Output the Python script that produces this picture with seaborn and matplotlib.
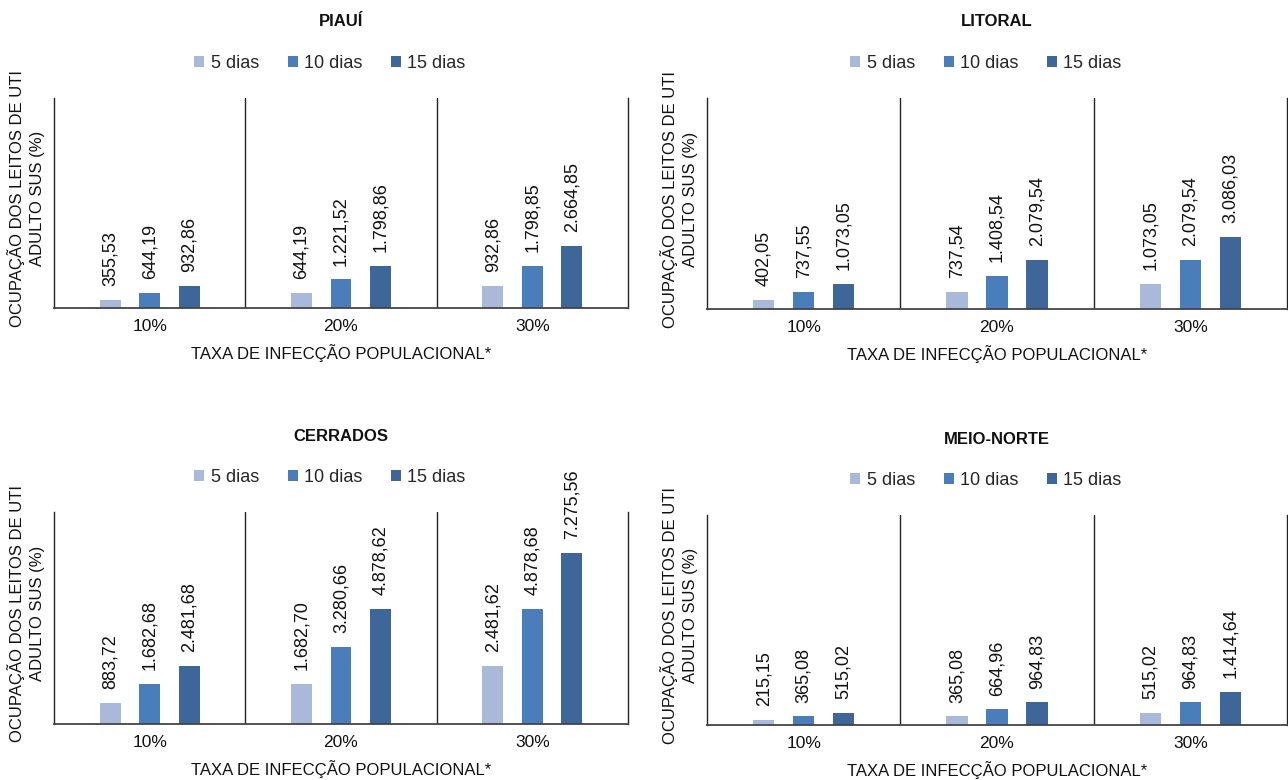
import matplotlib
matplotlib.use("Agg")
import matplotlib.pyplot as plt
import seaborn as sns
import pandas as pd

# Data -------------------------------------------------------------------
regions = ["PIAUÍ", "LITORAL", "CERRADOS", "MEIO-NORTE"]
taxas = ["10%", "20%", "30%"]
periodos = ["5 dias", "10 dias", "15 dias"]

piaui_5 = [355.53, 644.19, 932.86]
piaui_10 = [644.19, 1221.52, 1798.85]
piaui_15 = [932.86, 1798.86, 2664.85]

litoral_5 = [402.05, 737.54, 1073.05]
litoral_10 = [737.55, 1408.54, 2079.54]
litoral_15 = [1073.05, 2079.54, 3086.03]

cerrados_5 = [883.72, 1682.70, 2481.62]
cerrados_10 = [1682.68, 3280.66, 4878.68]
cerrados_15 = [2481.68, 4878.62, 7275.56]

meionorte_5 = [215.15, 365.08, 515.02]
meionorte_10 = [365.08, 664.96, 964.83]
meionorte_15 = [515.02, 964.83, 1414.64]

series = {
    "PIAUÍ": [piaui_5, piaui_10, piaui_15],
    "LITORAL": [litoral_5, litoral_10, litoral_15],
    "CERRADOS": [cerrados_5, cerrados_10, cerrados_15],
    "MEIO-NORTE": [meionorte_5, meionorte_10, meionorte_15],
}

ylabel = "OCUPAÇÃO DOS LEITOS DE UTI\nADULTO SUS (%)"
xlabel = "TAXA DE INFECÇÃO POPULACIONAL*"
palette = ["#A9B9D9", "#4A7EBB", "#3F6699"]

# Fonts --------------------------------------------------------------------
sns.set_style("white")
plt.rcParams["font.family"] = ["Liberation Sans", "DejaVu Sans"]


def fmt_br(v):
    s = f"{v:,.2f}"
    return s.replace(",", "X").replace(".", ",").replace("X", ".")


fig = plt.figure(figsize=(12.88, 7.8), dpi=100)

W, H = 1288, 780
# axes boxes in pixels: left, top, right, bottom
boxes = {
    "PIAUÍ": (54, 98, 628, 308),
    "LITORAL": (707, 98, 1287, 309),
    "CERRADOS": (54, 512, 628, 724),
    "MEIO-NORTE": (707, 515, 1287, 725),
}

for region in regions:
    l, t, r, b = boxes[region]
    ax = fig.add_axes([l / W, 1 - b / H, (r - l) / W, (b - t) / H])
    rows = []
    for p, vals in zip(periodos, series[region]):
        for tx, v in zip(taxas, vals):
            rows.append({"taxa": tx, "periodo": p, "valor": v})
    df = pd.DataFrame(rows)
    sns.barplot(data=df, x="taxa", y="valor", hue="periodo", order=taxas,
                hue_order=periodos, palette=palette, width=0.62, gap=0.47,
                linewidth=0, saturation=1, ax=ax)
    ax.set_ylim(0, 9000)
    ax.set_xlim(-0.5, 2.5)
    ax.set_yticks([])
    ax.set_ylabel("")
    ax.set_xlabel(xlabel, fontsize=12, labelpad=7, color="#111111")
    ax.tick_params(axis="x", length=0, pad=8, labelsize=12.5, colors="#111111")

    ax.spines["top"].set_visible(False)
    for sp in ["left", "right"]:
        ax.spines[sp].set_visible(True)
        ax.spines[sp].set_color("#222222")
        ax.spines[sp].set_linewidth(1.0)
    ax.spines["bottom"].set_color("#444444")
    ax.spines["bottom"].set_linewidth(1.3)
    for xb in [0.5, 1.5]:
        ax.axvline(xb, color="#222222", lw=1.0, zorder=0)

    for cont in ax.containers:
        labels = [fmt_br(bar.get_height()) for bar in cont]
        ax.bar_label(cont, labels=labels, rotation=90, padding=10,
                     fontsize=13, color="#111111")

    ax.text(-28 / (r - l), 0.52, ylabel, transform=ax.transAxes, rotation=90,
            ha="center", va="center", multialignment="center",
            fontsize=12, color="#111111", linespacing=1.45)

    ax.text(0.5, 1.0 + 76 / (b - t), region, transform=ax.transAxes,
            ha="center", va="center", fontsize=12, fontweight="bold",
            color="#111111")

    handles, lbls = ax.get_legend_handles_labels()
    ax.legend(handles, lbls, loc="center",
              bbox_to_anchor=(0.5 - 11 / (r - l), 1.0 + 35 / (b - t)),
              ncol=3, frameon=False, fontsize=13, handlelength=0.55,
              handleheight=0.55, handletextpad=0.35, columnspacing=1.6)

fig.savefig("out.png", dpi=100)
